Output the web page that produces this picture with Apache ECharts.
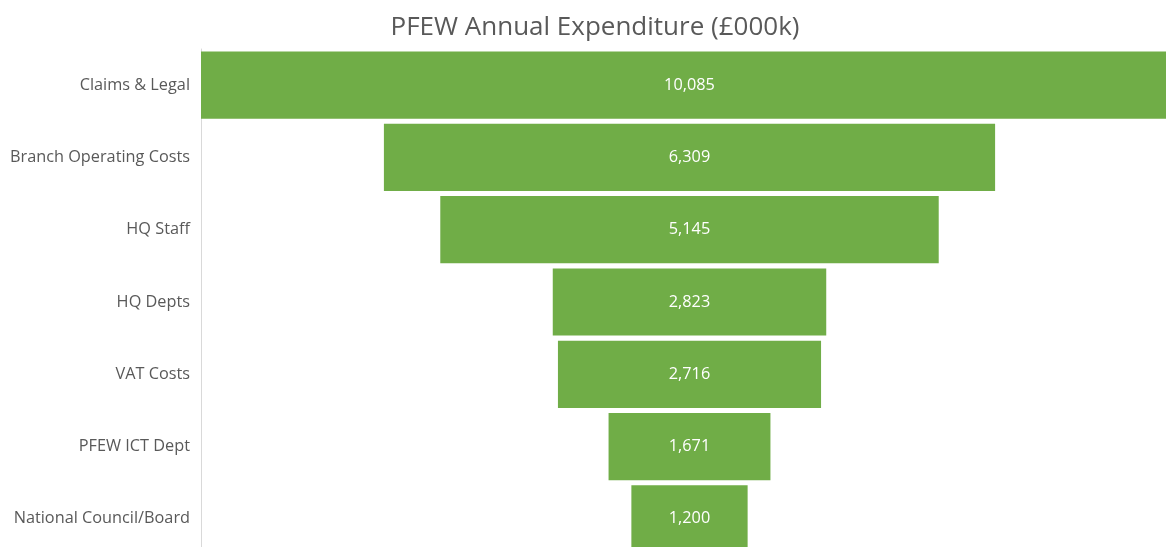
<!DOCTYPE html>
<html>
<head>
<meta charset="utf-8">
<title>PFEW Annual Expenditure</title>
<script src="https://cdn.jsdelivr.net/npm/echarts@6/dist/echarts.min.js"></script>
<style>
html, body { margin: 0; padding: 0; background: #fff; overflow: hidden; }
/* chart is a bit larger than the window: the original is cropped at right and bottom */
#main { width: 1200px; height: 570px; }
</style>
</head>
<body>
<div id="main"></div>
<script>
// categories top to bottom
var categories = ['Claims & Legal', 'Branch Operating Costs', 'HQ Staff', 'HQ Depts',
                  'VAT Costs', 'PFEW ICT Dept', 'National Council/Board'];
var values = [10085, 6309, 5145, 2823, 2716, 1671, 1200];

var maxVal = Math.max.apply(null, values);
// invisible offset so each bar sits centred (funnel look)
var offsets = values.map(function (v) { return (maxVal - v) / 2; });

var chart = echarts.init(document.getElementById('main'));
chart.setOption({
  animation: false,
  textStyle: { fontFamily: 'Open Sans' },
  title: {
    text: 'PFEW Annual Expenditure (£000k)',
    left: 590, top: 10, textAlign: 'center',
    textStyle: { fontSize: 26, fontWeight: 'normal', color: '#595959', fontFamily: 'Open Sans' }
  },
  grid: { left: 201, top: 49, width: 977, height: 506 },
  xAxis: {
    type: 'value', min: 0, max: 10085, show: false
  },
  yAxis: {
    type: 'category', data: categories, inverse: true,
    axisLine: { show: true, lineStyle: { color: '#d9d9d9', width: 1 } },
    axisTick: { show: false },
    axisLabel: { color: '#595959', fontSize: 16.3, margin: 11 }
  },
  series: [
    {
      type: 'bar', stack: 'f', data: offsets, silent: true,
      itemStyle: { color: 'transparent' }, barCategoryGap: '7%'
    },
    {
      type: 'bar', stack: 'f', data: values, barCategoryGap: '7%',
      itemStyle: { color: '#70AD47' },
      label: {
        show: true, position: 'inside', color: '#ffffff', fontSize: 16.3,
        formatter: function (p) { return p.value.toLocaleString('en-US'); }
      }
    }
  ]
});
</script>
</body>
</html>
